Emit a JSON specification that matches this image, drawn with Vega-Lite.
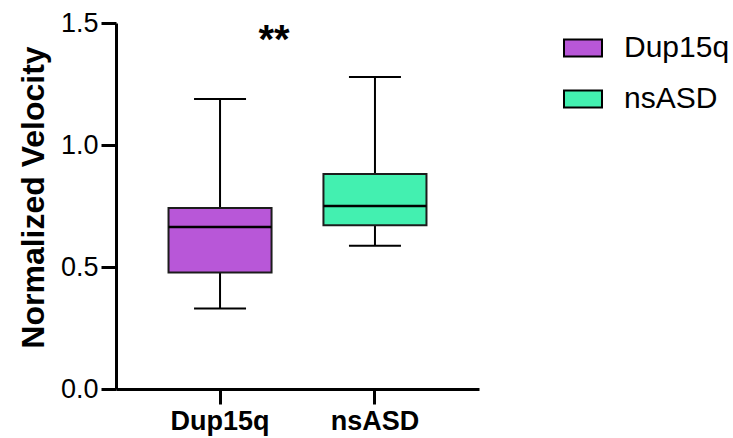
{
  "$schema": "https://vega.github.io/schema/vega-lite/v6.json",
  "autosize": "none",
  "width": 363,
  "height": 366,
  "padding": {"left": 116, "top": 23, "right": 254, "bottom": 49},
  "background": "white",
  "data": {"values": [
    {"group": "Dup15q", "min": 0.33, "q1": 0.477, "median": 0.664, "q3": 0.742, "max": 1.189},
    {"group": "nsASD", "min": 0.587, "q1": 0.671, "median": 0.75, "q3": 0.881, "max": 1.279}
  ]},
  "config": {
    "view": {"stroke": null},
    "font": "Liberation Sans",
    "axis": {
      "domainColor": "black", "domainWidth": 3, "tickColor": "black", "tickWidth": 3, "tickSize": 15,
      "labelFont": "Liberation Sans", "labelColor": "black", "grid": false,
      "titleFont": "Liberation Sans", "titleColor": "black"
    }
  },
  "encoding": {
    "x": {"field": "group", "type": "nominal",
      "scale": {"domain": ["Dup15q", "nsASD"], "paddingInner": 0.335, "paddingOuter": 0.339},
      "axis": {"title": null, "labelAngle": 0, "labelFontSize": 27, "labelFontWeight": "bold", "labelPadding": 4, "labelBaseline": "top"}
    }
  },
  "layer": [
    {
      "mark": {"type": "rule", "color": "black", "strokeWidth": 2},
      "encoding": {
        "y": {"field": "min", "type": "quantitative",
          "scale": {"domain": [0, 1.5], "nice": false, "zero": true},
          "axis": {"title": "Normalized Velocity", "values": [0, 0.5, 1, 1.5], "format": ".1f",
            "labelFontSize": 27, "labelPadding": 3, "titleFontSize": 32, "titleFontWeight": "bold", "titlePadding": 10, "titleY": 174}},
        "y2": {"field": "q1"}
      }
    },
    {
      "mark": {"type": "rule", "color": "black", "strokeWidth": 2},
      "encoding": {"y": {"field": "q3", "type": "quantitative"}, "y2": {"field": "max"}}
    },
    {
      "mark": {"type": "tick", "color": "black", "size": 52, "thickness": 2, "opacity": 1},
      "encoding": {"y": {"field": "min", "type": "quantitative"}}
    },
    {
      "mark": {"type": "tick", "color": "black", "size": 52, "thickness": 2, "opacity": 1},
      "encoding": {"y": {"field": "max", "type": "quantitative"}}
    },
    {
      "mark": {"type": "bar", "stroke": "#1c1c1c", "strokeWidth": 2, "opacity": 1},
      "encoding": {
        "y": {"field": "q1", "type": "quantitative"},
        "y2": {"field": "q3"},
        "fill": {"field": "group", "type": "nominal",
          "scale": {"domain": ["Dup15q", "nsASD"], "range": ["#B857D8", "#43F0B0"]},
          "legend": {
            "title": null, "orient": "none", "legendX": 447, "legendY": 5, "padding": 0,
            "symbolType": "M-1,-0.45L1,-0.45L1,0.45L-1,0.45Z", "symbolSize": 1444,
            "symbolStrokeColor": "black", "symbolStrokeWidth": 2, "symbolOpacity": 1,
            "labelFontSize": 30, "labelFont": "Liberation Sans", "labelColor": "black",
            "labelOffset": 21, "rowPadding": 16
          }
        }
      }
    },
    {
      "mark": {"type": "tick", "color": "black", "size": 103, "thickness": 2.5, "opacity": 1},
      "encoding": {"y": {"field": "median", "type": "quantitative"}}
    },
    {
      "data": {"values": [{"label": "**"}]},
      "mark": {"type": "text", "fontSize": 40, "fontWeight": "bold", "font": "Liberation Sans", "color": "black", "dx": 54, "baseline": "middle"},
      "encoding": {
        "x": {"datum": "Dup15q"},
        "y": {"datum": 1.425},
        "text": {"field": "label"}
      }
    }
  ]
}
